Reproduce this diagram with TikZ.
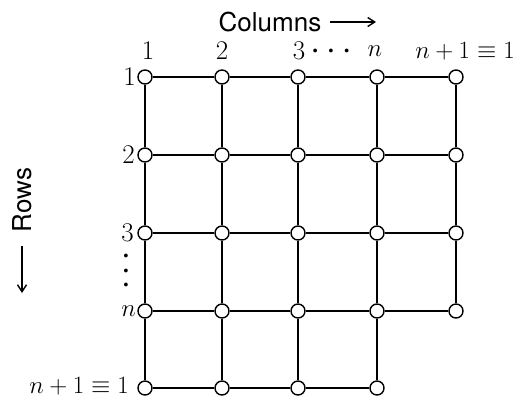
\documentclass[tikz,border=0pt]{standalone}
\usepackage{fontspec}
\newfontfamily\hvfont{TeX Gyre Heros}
\usetikzlibrary{arrows.meta}
\begin{document}
\begin{tikzpicture}[x=1pt,y=-1pt,
  vtx/.style={circle,draw,line width=1.4pt,fill=white,minimum size=14pt,inner sep=0pt},
  edge/.style={line width=2.4pt},
  lbl/.style={font=\fontsize{27}{30}\selectfont,inner sep=0pt},
  dots/.style={font=\fontsize{17}{14.5}\selectfont,inner sep=0pt,align=center},
  head/.style={font=\hvfont\fontsize{26}{30}\selectfont,inner sep=1pt},
  pointer/.style={line width=1.4pt,-{Straight Barb[length=7pt,width=9pt]}}]
\useasboundingbox (0,0) rectangle (524,397);
% vertices
\foreach \r/\y in {1/77,2/155,3/233,4/311}{
  \foreach \c/\x in {1/145,2/222,3/298,4/377,5/456}{
    \node[vtx] (v\r\c) at (\x,\y) {};
  }
}
\foreach \c/\x in {1/145,2/222,3/298,4/377}{
  \node[vtx] (v5\c) at (\x,388) {};
}
% horizontal edges
\foreach \r/\c/\d in {1/1/2,1/2/3,1/3/4,1/4/5,
                      2/1/2,2/2/3,2/3/4,2/4/5,
                      3/1/2,3/2/3,3/3/4,3/4/5,
                      4/1/2,4/2/3,4/3/4,4/4/5,
                      5/1/2,5/2/3,5/3/4}{
  \draw[edge] (v\r\c) -- (v\r\d);
}
% vertical edges
\foreach \c/\r/\s in {1/1/2,1/2/3,1/3/4,1/4/5,
                      2/1/2,2/2/3,2/3/4,2/4/5,
                      3/1/2,3/2/3,3/3/4,3/4/5,
                      4/1/2,4/2/3,4/3/4,4/4/5,
                      5/1/2,5/2/3,5/3/4}{
  \draw[edge] (v\r\c) -- (v\s\c);
}
% column labels
\node[lbl] (c1) at (148,51) {1};
\node[lbl] (c2) at (222,51) {2};
\node[lbl] (c3) at (299,51) {3};
\node[dots] (cd) at (331,52) {\textbullet\hspace{3.5pt}\textbullet\hspace{3.5pt}\textbullet};
\node[lbl] (cn) at (375,51) {$n$};
\node[lbl] (cn1) at (465,51) {$n+1\equiv1$};
% row labels
\node[lbl,anchor=east] (r1) at (136,77) {1};
\node[lbl,anchor=east] (r2) at (135,155) {2};
\node[lbl,anchor=east] (r3) at (134,233) {3};
\node[dots] (rd) at (126,272) {\textbullet\\\textbullet\\\textbullet};
\node[lbl,anchor=east] (rn) at (136,311) {$n$};
\node[lbl,anchor=east,font=\fontsize{25}{28}\selectfont] (rn1) at (129,386.5) {$n+1\equiv1$};
% headings
\node[head] (cols) at (270,22) {Columns};
\coordinate (ca) at (330,22);
\coordinate (cb) at (376,22);
\draw[pointer] (ca) -- (cb);
\node[head,rotate=90] (rows) at (22,200) {Rows};
\coordinate (ra) at (22,246);
\coordinate (rb) at (22,293);
\draw[pointer] (ra) -- (rb);
\end{tikzpicture}
\end{document}
